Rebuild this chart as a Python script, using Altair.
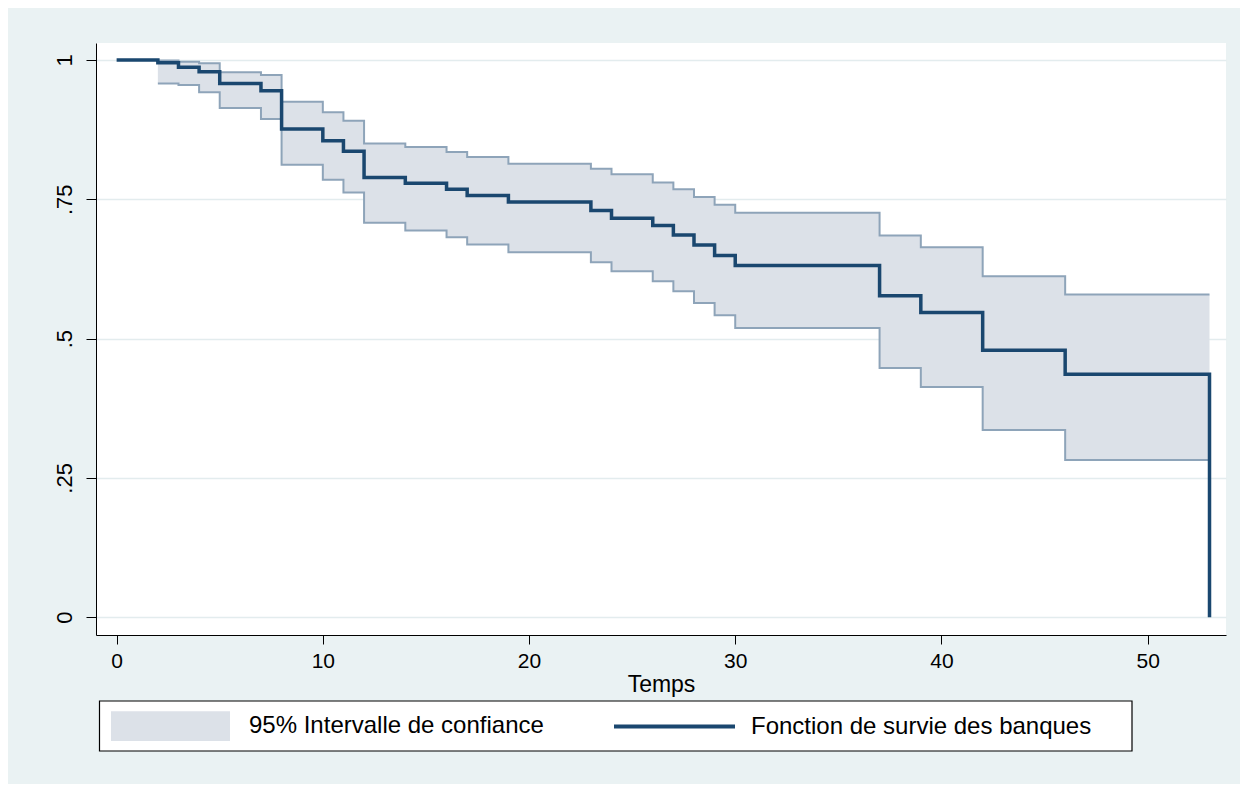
import altair as alt
import pandas as pd

# Kaplan-Meier survival estimate
times = [0, 2, 3, 4, 5, 7, 8, 10, 11, 12, 14, 16, 17, 19, 23, 24, 26, 27, 28, 29, 30, 37, 39, 42, 46, 53]
surv = [1.0, 0.995, 0.987, 0.979, 0.958, 0.945, 0.876, 0.855, 0.836, 0.789, 0.779, 0.768, 0.757,
        0.745, 0.730, 0.716, 0.703, 0.686, 0.668, 0.649, 0.631, 0.577, 0.547, 0.479, 0.436, 0.0]

# 95% confidence band
ci_times = [2, 3, 4, 5, 7, 8, 10, 11, 12, 14, 16, 17, 19, 23, 24, 26, 27, 28, 29, 30, 37, 39, 42, 46, 53]
ci_upper = [0.999, 0.997, 0.994, 0.978, 0.973, 0.925, 0.906, 0.891, 0.850, 0.844, 0.835, 0.826, 0.814,
            0.805, 0.795, 0.780, 0.768, 0.754, 0.740, 0.726, 0.685, 0.664, 0.612, 0.579, 0.579]
ci_lower = [0.958, 0.955, 0.942, 0.914, 0.894, 0.812, 0.785, 0.762, 0.708, 0.694, 0.682, 0.669, 0.655,
            0.637, 0.621, 0.603, 0.585, 0.564, 0.542, 0.519, 0.447, 0.413, 0.336, 0.282, 0.282]

x_ticks = [0, 10, 20, 30, 40, 50]
y_ticks = [0, 0.25, 0.5, 0.75, 1]

lab_ci = "95% Intervalle de confiance"
lab_s = "Fonction de survie des banques"

surv_df = pd.DataFrame({"t": times, "s": surv, "serie": lab_s})
ci_df = pd.DataFrame({"t": ci_times, "upper": ci_upper, "lower": ci_lower, "serie": lab_ci})

FONT = "Liberation Sans"
NAVY = "#1A476F"
BAND = "#DCE1E8"
EDGE = "#8EA4B9"
BG = "#EAF2F3"

xscale = alt.Scale(domain=[-1.0, 53.8], nice=False, zero=False)
yscale = alt.Scale(domain=[-0.032, 1.0305], nice=False, zero=False)

xaxis = alt.Axis(values=x_ticks, grid=False, title="Temps", titleFontSize=23, titleFontWeight="normal",
                 titleColor="black", titlePadding=2, labelFontSize=21, labelColor="black",
                 labelPadding=6, tickSize=9, tickColor="black", domainColor="black",
                 labelFlush=False, format="d")
yaxis = alt.Axis(values=y_ticks, grid=True, gridColor="#E3ECEE", gridWidth=1.5, title=None,
                 labelAngle=270, labelAlign="center", labelBaseline="bottom",
                 labelExpr="datum.value == 0 ? '0' : datum.value == 1 ? '1' : substring(toString(datum.value), 1)",
                 labelFontSize=22, labelColor="black", labelPadding=10, tickSize=10,
                 tickColor="black", domainColor="black")

frame = alt.Chart(pd.DataFrame({"k": [0]})).mark_rect(fill="white", stroke="black", strokeWidth=1.2).encode(
    x=alt.value(3.5), x2=alt.value(1036), y=alt.value(658), y2=alt.value(708)
)

band = alt.Chart(ci_df).mark_area(interpolate="step-after", opacity=1).encode(
    x=alt.X("t:Q", scale=xscale, axis=xaxis),
    y=alt.Y("lower:Q", scale=yscale, axis=yaxis),
    y2="upper:Q",
    fill=alt.Fill("serie:N", scale=alt.Scale(domain=[lab_ci], range=[BAND]),
                  legend=alt.Legend(title=None, orient="none", legendX=15, legendY=623.5,
                                    symbolType="M-1,-0.25H1V0.25H-1Z", symbolSize=14161,
                                    symbolStrokeWidth=0, symbolOpacity=1, labelOffset=19,
                                    labelFontSize=24, labelFont=FONT, labelColor="black",
                                    padding=0, labelLimit=500)),
)

upper_line = alt.Chart(ci_df).mark_line(interpolate="step-after", color=EDGE, strokeWidth=2).encode(
    x="t:Q", y="upper:Q"
)
lower_line = alt.Chart(ci_df).mark_line(interpolate="step-after", color=EDGE, strokeWidth=2).encode(
    x="t:Q", y="lower:Q"
)

surv_line = alt.Chart(surv_df).mark_line(interpolate="step-after", strokeWidth=3.5).encode(
    x="t:Q",
    y="s:Q",
    stroke=alt.Stroke("serie:N", scale=alt.Scale(domain=[lab_s], range=[NAVY]),
                      legend=alt.Legend(title=None, orient="none", legendX=516, legendY=621,
                                        symbolType="stroke", symbolSize=14641, symbolStrokeWidth=4,
                                        labelOffset=14, labelFontSize=24, labelFont=FONT,
                                        labelColor="black", padding=0, labelLimit=500)),
)

chart = alt.layer(frame, band, upper_line, lower_line, surv_line).resolve_legend(
    fill="independent", stroke="independent"
).properties(
    width=1130,
    height=592,
    padding={"left": 88, "top": 35, "right": 14, "bottom": 149},
    autosize=alt.AutoSizeParams(type="none"),
    background=BG,
).configure(font=FONT).configure_view(fill="white", strokeWidth=0)

chart.save("out.html", embed_options={"renderer": "svg", "actions": False})
